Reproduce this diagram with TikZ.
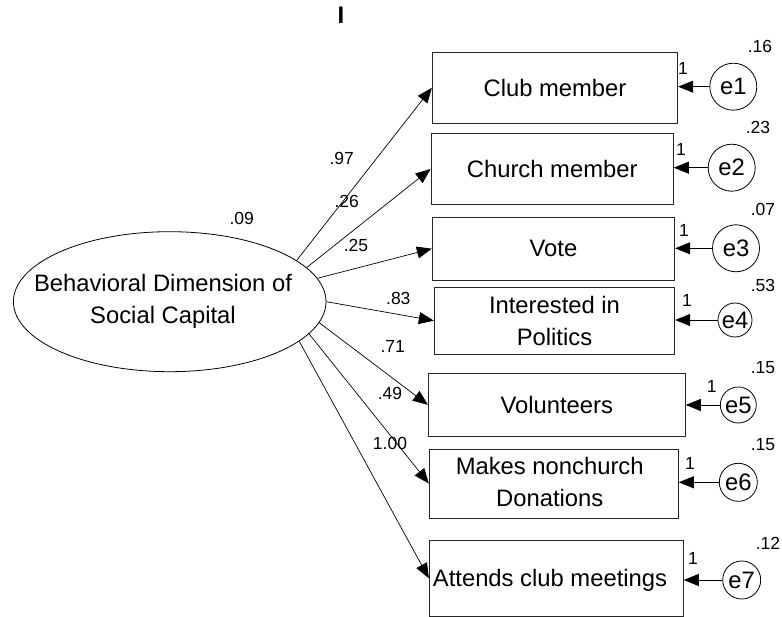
\documentclass[tikz,border=0pt]{standalone}
\usepackage{fontspec}
\setmainfont{Liberation Sans}
\usetikzlibrary{shapes.geometric,arrows.meta}
\begin{document}
\begin{tikzpicture}[x=1pt,y=-1pt,
 every node/.style={font=\fontsize{23.8}{31.7}\selectfont},
 obs/.style={draw=black!85, line width=0.9pt, rectangle, inner sep=0pt, align=center},
 err/.style={draw, circle, line width=0.8pt, inner sep=0pt},
 lab/.style={font=\fontsize{17.5}{20}\selectfont, inner sep=0pt},
 arr/.style={line width=0.7pt, -{Triangle[length=15pt,width=12pt]}}]
\useasboundingbox (0,0) rectangle (782,617);

\node[font=\fontsize{24}{28}\selectfont\bfseries, inner sep=0pt] (top) at (341,15) {I};

\node[draw, ellipse, line width=0.8pt, minimum width=312.6pt, minimum height=140pt, inner sep=0pt] (lat) at (169.7,301.7) {};
\node[inner sep=0pt, align=center] (latt) at (163,301) {Behavioral Dimension of\\Social Capital};
\node[lab] (vlat) at (241.7,218.3) {.09};

\node[obs, minimum width=245.4pt, minimum height=71pt] (b1) at (555,87.8) {Club member};
\node[obs, minimum width=242.3pt, minimum height=71.4pt] (b2) at (552.2,169) {Church member};
\node[obs, minimum width=242.4pt, minimum height=62.7pt] (b3) at (553.5,248.7) {Vote};
\node[obs, minimum width=240.4pt, minimum height=66.7pt] (b4) at (554.5,320.7) {Interested in\\Politics};
\node[obs, minimum width=257pt, minimum height=63pt] (b5) at (556.8,404.8) {Volunteers};
\node[obs, minimum width=249pt, minimum height=69pt] (b6) at (553.8,483.5) {};
\node[inner sep=0pt, align=center] (t6) at (549.7,482) {Makes nonchurch\\Donations};
\node[obs, minimum width=254pt, minimum height=76.7pt] (b7) at (556.3,578.3) {};
\node[inner sep=0pt] (t7) at (550,580) {Attends club meetings};

\node[err, minimum size=47pt] (e1) at (733.3,86.7) {e1};
\node[err, minimum size=47pt] (e2) at (731.7,167.7) {e2};
\node[err, minimum size=47pt] (e3) at (736,248.3) {e3};
\node[err, minimum size=34pt] (e4) at (735,320) {e4};
\node[err, minimum size=36pt] (e5) at (738.3,405) {e5};
\node[err, minimum size=38pt] (e6) at (738.3,482.3) {e6};
\node[err, minimum size=38pt] (e7) at (741.7,580) {e7};

\draw[arr] (lat.18) -- (b1.west);
\draw[arr] (lat.14.2) -- (b2.west);
\draw[arr] (lat.9.1) -- (b3.west);
\draw[arr] (lat.-0.8) -- (b4.west);
\draw[arr] (lat.-8.1) -- (b5.west);
\draw[arr] (lat.-13.4) -- (b6.west);
\draw[arr] (lat.-17.1) -- (b7.west);

\foreach \i in {1,...,7}{\draw[arr] (e\i.west) -- (e\i.west -| b\i.east);}

\node[lab] (p1) at (341.7,158.3) {.97};
\node[lab] (p2) at (346.7,201.7) {.26};
\node[lab] (p3) at (356,245.7) {.25};
\node[lab] (p4) at (398.3,298.3) {.83};
\node[lab] (p5) at (392.7,346.7) {.71};
\node[lab] (p6) at (390,393.3) {.49};
\node[lab] (p7) at (390,443.3) {1.00};

\node[lab] (o1) at (683,68) {1};
\node[lab] (o2) at (681,149) {1};
\node[lab] (o3) at (684,230) {1};
\node[lab] (o4) at (687,300.7) {1};
\node[lab] (o5) at (711.7,386) {1};
\node[lab] (o6) at (690,463) {1};
\node[lab] (o7) at (693,558) {1};

\node[lab] (v1) at (760,46.7) {.16};
\node[lab] (v2) at (758,127.7) {.23};
\node[lab] (v3) at (763,209) {.07};
\node[lab] (v4) at (763,285) {.53};
\node[lab] (v5) at (763,368) {.15};
\node[lab] (v6) at (763,445) {.15};
\node[lab] (v7) at (768,543) {.12};
\end{tikzpicture}
\end{document}
